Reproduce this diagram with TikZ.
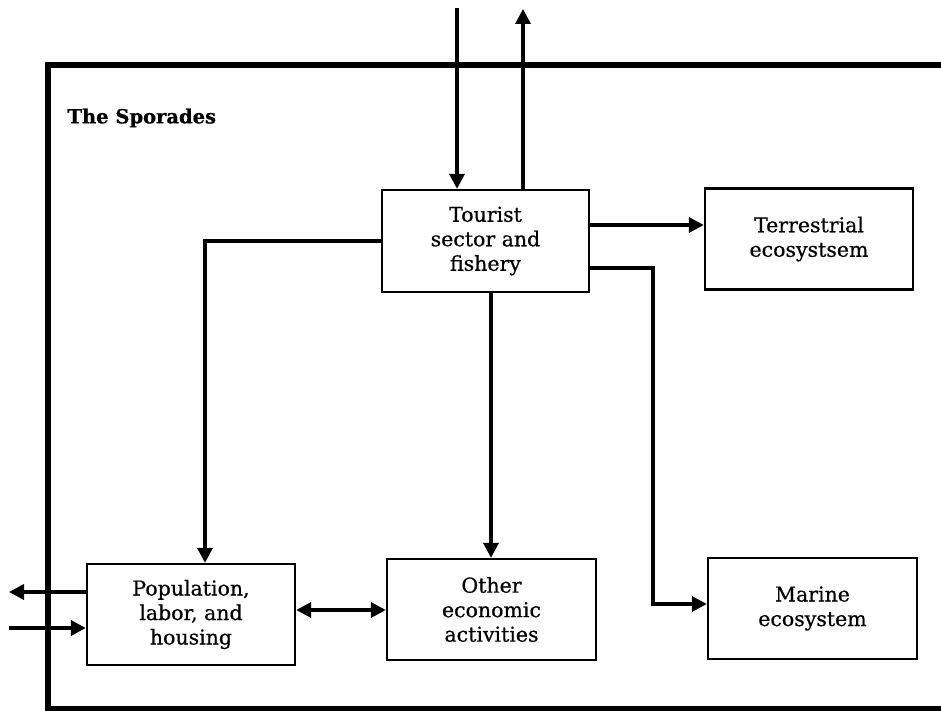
\documentclass[tikz,border=0pt]{standalone}
\usepackage{fontspec}
\setmainfont{DejaVu Serif}[FakeBold=0.6]
\newfontfamily\titlefont{DejaVu Serif}[FakeBold=0.6]
\usetikzlibrary{arrows.meta}
\begin{document}
\begin{tikzpicture}[x=1pt,y=-1pt,
  box/.style={draw,line width=2.3pt,minimum width=#1,minimum height=101pt,inner sep=0pt,
    align=center,font=\fontsize{20.5}{24.5}\selectfont},
  box/.default=208pt,
  arr/.style={line width=3.4pt,-{Triangle[length=15pt,width=15pt]}},
  darr/.style={line width=3.4pt,{Triangle[length=15pt,width=15pt]}-{Triangle[length=15pt,width=15pt]}},
  frame/.style={line width=5.5pt}]
\useasboundingbox (0,0) rectangle (941,711);
% frame
\draw[frame] (943,65) -- (48,65) -- (48,713);
\draw[frame] (48,709) -- (943,709);
\node[anchor=west,font=\titlefont\bfseries\fontsize{19.5}{22}\selectfont] (title) at (64,118) {The Sporades};
% boxes
\node[box=207pt,minimum height=102pt] (tour) at (485.5,241) {Tourist\\sector and\\fishery};
\node[box=208pt,minimum height=101pt] (terr) at (809,239) {Terrestrial\\ecosystsem};
\node[box=209pt] (mar) at (812.5,608.5) {Marine\\ecosystem};
\node[box=209pt] (oth) at (491.5,609.5) {Other\\economic\\activities};
\node[box=208pt] (pop) at (191,614.5) {Population,\\labor, and\\housing};
% helper coordinates
\coordinate (inTop) at (457,8);
\coordinate (outTop) at (523,9);
\coordinate (yT) at (0,225);
\coordinate (yM) at (0,268);
\coordinate (cM1) at (653,268);
\coordinate (cM2) at (653,604);
\coordinate (yP) at (0,241);
\coordinate (cP) at (205,241);
\coordinate (xO) at (491,0);
\coordinate (yPO) at (0,610);
\coordinate (outL) at (9,592);
\coordinate (inL) at (9,628);
% connectors
\draw[arr] (inTop) -- (inTop |- tour.north);
\draw[arr] (outTop |- tour.north) -- (outTop);
\draw[arr] (tour.east |- yT) -- (terr.west |- yT);
\draw[arr] (tour.east |- yM) -- (cM1) -- (cM2) -- (mar.west |- cM2);
\draw[arr] (tour.west |- yP) -- (cP) -- (cP |- pop.north);
\draw[arr] (xO |- tour.south) -- (xO |- oth.north);
\draw[darr] (pop.east |- yPO) -- (oth.west |- yPO);
\draw[arr] (pop.west |- outL) -- (outL);
\draw[arr] (inL) -- (pop.west |- inL);
\end{tikzpicture}
\end{document}
